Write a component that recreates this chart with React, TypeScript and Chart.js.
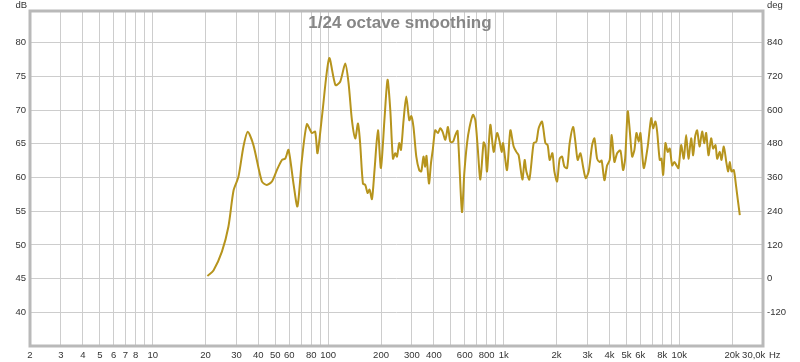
import React, { useEffect, useRef } from "react";
import { Chart, registerables } from "chart.js";

Chart.register(...registerables);

// Frequency (Hz) of each traced point of the response
const freqHz: number[] = [
  20.5, 22.2, 24.8, 27.0, 28.9, 30.8, 32.9, 34.8, 37.5, 41.9,
  44.7, 47.8, 51.0, 54.5, 56.9, 59.4, 63.4, 66.8, 70.8, 75.6,
  80.7, 84.3, 86.9, 92.1, 101.3, 110, 117, 125, 130.6, 136.5,
  142.6, 147.8, 152, 157.7, 162.6, 167.6, 172, 177.5, 183.6, 192,
  199.7, 209.4, 217.8, 225.8, 233.8, 241, 246.4, 254, 259.8, 268.8,
  278.4, 289.6, 297.4, 306, 317.6, 330, 339, 349, 357, 363,
  375, 385, 395, 407, 422, 435, 448, 465, 481, 496,
  514, 530, 546, 578, 596, 618, 639, 668, 689, 710,
  736, 768, 785, 803, 839, 876, 916, 948, 973, 991,
  1044, 1091, 1139, 1180, 1216, 1277, 1316, 1346, 1400, 1481,
  1534, 1581, 1653, 1727, 1780, 1827, 1893, 1943, 2013, 2083,
  2150, 2216, 2296, 2375, 2484, 2560, 2638, 2734, 2832, 2931,
  3048, 3188, 3286, 3403, 3521, 3615, 3746, 3881, 4016, 4123,
  4272, 4426, 4622, 4786, 4917, 5087, 5223, 5389, 5555, 5702,
  5877, 6010, 6277, 6614, 6918, 7099, 7316, 7482, 7742, 7917,
  8096, 8344, 8596, 8826, 9110, 9390, 9640, 9897, 10253, 10608,
  10948, 11284, 11692, 12002, 12321, 12648, 13040, 13509, 13866, 14234,
  14674, 15200, 15604, 16086, 16448, 17021, 17406, 17940, 18584, 19002,
  19405, 19843, 20451, 21105, 21553, 22130,
];

// SPL (dB) at each frequency above
const splDb: number[] = [
  45.4, 46.2, 49.0, 52.7, 58.1, 60.1, 64.6, 66.8, 64.8, 59.4,
  58.9, 59.4, 61.1, 62.6, 62.8, 64.1, 59.1, 55.7, 62.6, 67.9,
  66.6, 66.8, 63.6, 69.0, 77.7, 73.7, 74.2, 76.9, 74.0, 68.5,
  65.8, 68.0, 65.1, 59.1, 58.9, 57.7, 58.2, 56.8, 61.1, 67.0,
  61.4, 68.8, 74.5, 70.0, 62.8, 63.6, 63.1, 65.1, 64.1, 68.5,
  72.0, 68.5, 69.1, 67.5, 63.1, 61.1, 60.9, 63.1, 61.6, 63.2,
  59.1, 62.1, 64.3, 67.0, 66.6, 67.3, 66.8, 65.6, 67.5, 65.3,
  65.3, 66.3, 66.9, 54.9, 60.6, 65.1, 67.5, 69.3, 68.5, 64.6,
  59.7, 65.2, 64.6, 60.9, 67.8, 63.8, 66.6, 65.3, 63.8, 65.1,
  61.1, 67.0, 64.6, 63.8, 63.3, 59.7, 62.6, 60.9, 59.7, 65.1,
  65.3, 67.3, 68.3, 65.1, 64.8, 62.6, 63.6, 60.9, 59.4, 62.8,
  63.1, 61.6, 61.4, 65.1, 67.5, 65.3, 62.6, 63.6, 61.6, 59.9,
  60.9, 64.8, 65.8, 62.8, 62.3, 62.5, 59.6, 61.8, 62.6, 66.3,
  62.3, 63.6, 64.0, 61.1, 62.8, 69.8, 67.0, 63.1, 64.1, 66.6,
  65.3, 66.6, 61.4, 64.6, 68.8, 67.3, 68.3, 66.8, 62.6, 62.8,
  60.4, 65.1, 63.8, 64.3, 61.8, 62.3, 61.8, 61.4, 64.8, 62.8,
  66.3, 62.8, 65.8, 63.3, 66.1, 67.0, 64.6, 66.8, 65.1, 66.6,
  63.3, 65.8, 64.3, 64.8, 62.8, 63.8, 62.6, 64.6, 62.1, 60.9,
  62.3, 60.9, 61.1, 58.6, 56.7, 54.4,
];

// Frequency grid lines and their labels
const freqGrid: number[] = [
  2, 3, 4, 5, 6, 7, 8, 9, 10, 20, 30, 40, 50, 60, 70, 80, 90, 100,
  200, 300, 400, 500, 600, 700, 800, 900, 1000, 2000, 3000, 4000, 5000,
  6000, 7000, 8000, 9000, 10000, 20000,
];
const freqLabelValues: number[] = [
  2, 3, 4, 5, 6, 7, 8, 10, 20, 30, 40, 50, 60, 80, 100, 200, 300, 400,
  600, 800, 1000, 2000, 3000, 4000, 5000, 6000, 8000, 10000, 20000,
];
const freqLabelTexts: string[] = [
  "2", "3", "4", "5", "6", "7", "8", "10", "20", "30", "40", "50", "60",
  "80", "100", "200", "300", "400", "600", "800", "1k", "2k", "3k", "4k",
  "5k", "6k", "8k", "10k", "20k",
];

const xMin = 2;
const xMax = 30000;
const dbMin = 35;
const dbMax = 84.7;
const dbTicks: number[] = [40, 45, 50, 55, 60, 65, 70, 75, 80];
const degTicks: number[] = [-120, 0, 120, 240, 360, 480, 600, 720, 840];
// phase axis is aligned so that 0 deg = 45 dB and 120 deg = 5 dB
const degPerDb = 24;
const degZeroDb = 45;

const titleText = "1/24 octave smoothing";
const xMaxLabel = "30,0k";
const xUnit = "Hz";
const yUnitLeft = "dB";
const yUnitRight = "deg";

const TICK_FONT = "'Liberation Sans', Arial, sans-serif";
const TICK_SIZE = 9.5;

export default function App() {
  const canvasRef = useRef<HTMLCanvasElement | null>(null);

  useEffect(() => {
    document.body.style.margin = "0";
    const canvas = canvasRef.current;
    if (!canvas) return;

    const overlay = {
      id: "overlay",
      afterDraw(chart: any) {
        const { ctx, chartArea } = chart;
        const { left, right, top, bottom } = chartArea;
        ctx.save();
        // frame
        ctx.strokeStyle = "#b9b9b9";
        ctx.lineWidth = 3;
        ctx.strokeRect(left, top, right - left, bottom - top);
        // title
        ctx.fillStyle = "#868686";
        ctx.font = "bold 17px 'Liberation Sans', Arial, sans-serif";
        ctx.textAlign = "center";
        ctx.textBaseline = "alphabetic";
        ctx.fillText(titleText, 400, 28);
        // units
        ctx.fillStyle = "#333";
        ctx.font = `${TICK_SIZE}px ${TICK_FONT}`;
        ctx.textBaseline = "middle";
        ctx.textAlign = "right";
        ctx.fillText(yUnitLeft, left - 3, 5);
        ctx.textAlign = "left";
        ctx.fillText(yUnitRight, right + 4, 5);
        const xs = chart.scales.x;
        const ly = bottom + 9;
        ctx.textAlign = "left";
        ctx.fillText(xMaxLabel, xs.getPixelForValue(20000) + 10, ly);
        ctx.fillText(xUnit, right + 6, ly);
        ctx.restore();
      },
    };

    const chart = new Chart(canvas, {
      type: "line",
      data: {
        datasets: [
          {
            data: freqHz.map((f, i) => ({ x: f, y: splDb[i] })),
            borderColor: "#b6941d",
            borderWidth: 2,
            pointRadius: 0,
            tension: 0.25,
            fill: false,
            yAxisID: "y",
          },
        ],
      },
      options: {
        animation: false,
        responsive: false,
        maintainAspectRatio: false,
        layout: { padding: { top: 11, left: 0, right: 0, bottom: 0 } },
        plugins: { legend: { display: false }, tooltip: { enabled: false }, title: { display: false } },
        scales: {
          x: {
            type: "logarithmic",
            min: xMin,
            max: xMax,
            position: "bottom",
            afterBuildTicks: (scale: any) => {
              scale.ticks = freqGrid.map((v) => ({ value: v }));
            },
            afterFit: (scale: any) => {
              scale.height = 16;
            },
            grid: { color: "#cdcdcd", lineWidth: 1, drawTicks: false },
            border: { display: false },
            ticks: {
              autoSkip: false,
              maxRotation: 0,
              minRotation: 0,
              padding: 4,
              color: "#333",
              font: { family: TICK_FONT, size: TICK_SIZE },
              callback: (value: any) => {
                const idx = freqLabelValues.indexOf(Number(value));
                return idx >= 0 ? freqLabelTexts[idx] : "";
              },
            },
          },
          y: {
            type: "linear",
            position: "left",
            min: dbMin,
            max: dbMax,
            afterBuildTicks: (scale: any) => {
              scale.ticks = dbTicks.map((v) => ({ value: v }));
            },
            afterFit: (scale: any) => {
              scale.width = 30;
            },
            grid: { color: "#cdcdcd", lineWidth: 1, drawTicks: false },
            border: { display: false },
            ticks: {
              padding: 4,
              color: "#333",
              font: { family: TICK_FONT, size: TICK_SIZE },
              callback: (value: any) => String(value),
            },
          },
          y2: {
            type: "linear",
            position: "right",
            min: (dbMin - degZeroDb) * degPerDb,
            max: (dbMax - degZeroDb) * degPerDb,
            afterBuildTicks: (scale: any) => {
              scale.ticks = degTicks.map((v) => ({ value: v }));
            },
            afterFit: (scale: any) => {
              scale.width = 37;
            },
            grid: { display: false, drawTicks: false },
            border: { display: false },
            ticks: {
              padding: 4,
              color: "#333",
              font: { family: TICK_FONT, size: TICK_SIZE },
              callback: (value: any) => String(value),
            },
          },
        },
      },
      plugins: [overlay],
    });

    return () => {
      chart.destroy();
    };
  }, []);

  return (
    <div style={{ position: "absolute", left: 0, top: 0, width: 800, height: 362, background: "#fff" }}>
      <canvas ref={canvasRef} width={800} height={362} style={{ width: 800, height: 362 }} />
    </div>
  );
}
